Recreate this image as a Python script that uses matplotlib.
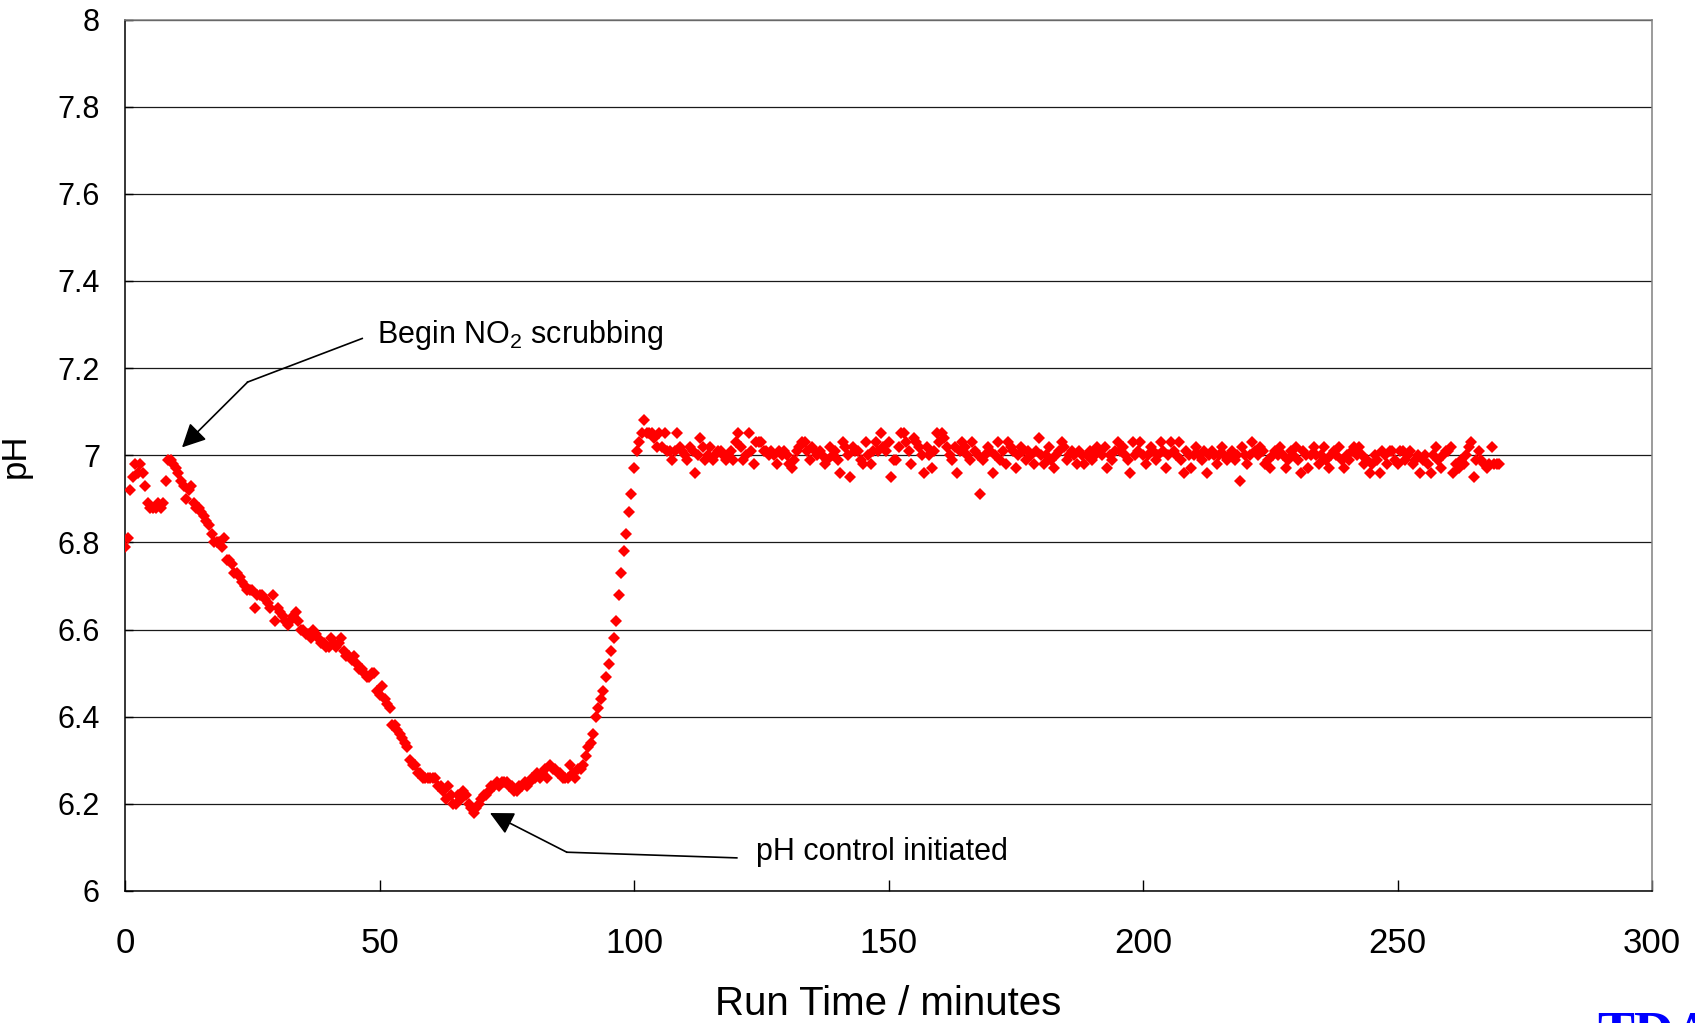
import matplotlib
matplotlib.use("Agg")
import matplotlib.pyplot as plt
import numpy as np

plt.rcParams["font.family"] = ["Liberation Sans", "DejaVu Sans"]
plt.rcParams["mathtext.default"] = "regular"

# pH logged every half minute, values in hundredths of a pH unit
SAMPLE_STEP_MIN = 0.5

# 0.0 - 12.0 min
ph_startup = [
    679, 681, 692, 695, 698, 696, 698, 696, 693, 689,
    688, 688, 688, 689, 688, 689, 694, 699, 699, 698,
    697, 696, 694, 693, 690,
]

# 12.5 - 69.5 min, NO2 scrubbing drives pH down
ph_scrubbing = [
    692, 693, 689, 688, 688, 687, 686, 685, 684, 682,
    680, 680, 680, 679, 681, 676, 676, 675, 673, 673,
    672, 671, 670, 669, 669, 669, 665, 668, 668, 668,
    667, 666, 665, 668, 662, 665, 664, 663, 662, 661,
    662, 663, 664, 662, 660, 660, 659, 659, 658, 660,
    659, 658, 657, 657, 656, 656, 658, 657, 656, 657,
    658, 655, 654, 654, 653, 654, 652, 651, 651, 650,
    649, 649, 650, 650, 646, 645, 647, 644, 643, 642,
    638, 638, 637, 636, 635, 634, 633, 630, 629, 629,
    627, 627, 626, 626, 626, 626, 626, 626, 624, 624,
    623, 621, 624, 622, 620, 620, 622, 621, 623, 622,
    620, 619, 618, 619, 620,
]

# 70.0 - 102.5 min, pH control kicks in
ph_recovery = [
    621, 622, 622, 623, 624, 624, 625, 624, 625, 625,
    625, 624, 624, 623, 623, 624, 624, 625, 624, 625,
    626, 626, 627, 626, 627, 628, 626, 629, 628, 628,
    627, 627, 626, 626, 626, 629, 627, 626, 628, 628,
    629, 631, 633, 634, 636, 640, 642, 644, 646, 649,
    652, 655, 658, 662, 668, 673, 678, 682, 687, 691,
    697, 701, 703, 705, 708, 705,
]

# 103.0 - 270.0 min, held near pH 7
ph_steady = [
    705, 705, 704, 702, 705, 702, 705, 701, 701, 699,
    701, 705, 702, 701, 700, 699, 702, 701, 696, 700,
    704, 702, 699, 700, 702, 699, 700, 701, 701, 700,
    699, 700, 701, 699, 703, 705, 702, 699, 700, 705,
    701, 698, 703, 703, 703, 701, 701, 700, 701, 700,
    698, 701, 700, 701, 700, 698, 697, 699, 701, 702,
    703, 703, 701, 699, 702, 701, 700, 701, 700, 698,
    699, 702, 700, 701, 699, 696, 703, 702, 700, 695,
    702, 701, 701, 699, 698, 703, 700, 698, 701, 703,
    701, 705, 702, 701, 703, 695, 699, 699, 702, 705,
    705, 703, 701, 698, 704, 703, 702, 700, 696, 702,
    700, 697, 701, 705, 703, 705, 704, 702, 700, 699,
    702, 696, 701, 703, 702, 700, 699, 703, 701, 700,
    691, 699, 700, 702, 701, 696, 700, 703, 699, 701,
    698, 703, 702, 701, 697, 700, 702, 701, 699, 701,
    700, 698, 701, 704, 700, 698, 700, 702, 699, 697,
    700, 701, 703, 702, 699, 700, 701, 700, 698, 701,
    700, 698, 700, 701, 699, 700, 702, 701, 700, 702,
    697, 700, 699, 701, 703, 701, 702, 700, 699, 696,
    703, 700, 701, 703, 700, 698, 700, 702, 701, 699,
    700, 703, 701, 697, 700, 703, 701, 700, 703, 699,
    696, 701, 700, 697, 700, 702, 700, 699, 701, 696,
    700, 701, 700, 698, 700, 702, 700, 699, 700, 701,
    699, 700, 694, 702, 700, 698, 700, 703, 701, 700,
    702, 701, 698, 699, 697, 700, 701, 700, 702, 700,
    697, 699, 701, 700, 702, 699, 696, 701, 700, 697,
    700, 702, 700, 698, 700, 702, 699, 697, 700, 701,
    700, 702, 699, 697, 700, 699, 701, 702, 700, 702,
    700, 698, 699, 696, 698, 700, 699, 696, 701, 700,
    698, 701, 701, 699, 698, 701, 701, 699, 700, 701,
    698, 699, 700, 696, 699, 700, 698, 696, 700, 702,
    699, 697, 700, 701, 701, 702, 696, 698, 697, 699,
    698, 700, 702, 703, 695, 699, 701, 699, 698, 697,
    698, 702, 698, 698, 698,
]

x_ticks = [0, 50, 100, 150, 200, 250, 300]
y_ticks = [6.0, 6.2, 6.4, 6.6, 6.8, 7.0, 7.2, 7.4, 7.6, 7.8, 8.0]

ph = np.array(ph_startup + ph_scrubbing + ph_recovery + ph_steady) / 100.0
run_time = np.arange(len(ph)) * SAMPLE_STEP_MIN

W, H = 1695, 1023
fig = plt.figure(figsize=(W / 100, H / 100), dpi=100)
ax = fig.add_axes([125 / W, 1 - 891 / H, 1527 / W, 871.5 / H])

ax.plot(run_time, ph, linestyle="none", marker="D", markersize=5.8,
        markerfacecolor="#ff0000", markeredgewidth=0, zorder=3)

ax.set_xlim(0, 300)
ax.set_ylim(6, 8)
ax.set_xticks(x_ticks)
ax.set_yticks(y_ticks)
ax.set_yticklabels([f"{v:g}" for v in y_ticks])
ax.yaxis.grid(True, color="#1a1a1a", linewidth=0.9)
ax.set_axisbelow(True)

ax.tick_params(axis="x", direction="in", length=8, width=1, labelsize=25, pad=26)
ax.tick_params(axis="y", direction="in", length=6, width=1, labelsize=22, pad=18)
for side in ("left", "bottom"):
    ax.spines[side].set_color("#000000")
    ax.spines[side].set_linewidth(1.1)
for side in ("top", "right"):
    ax.spines[side].set_color("#808080")
    ax.spines[side].set_linewidth(1.1)

ax.set_xlabel("Run Time / minutes", fontsize=29, labelpad=18)
ax.set_ylabel("pH", fontsize=25)
ax.yaxis.set_label_coords(-0.061, 0.5)

# callouts: kinked leader line, arrow on the last leg
arrow = dict(arrowstyle="-|>,head_length=0.6,head_width=0.3", color="black",
             lw=1.2, mutation_scale=24, shrinkA=0, shrinkB=0)

ax.plot([46.6, 24.1], [7.268, 7.168], color="black", lw=1.2)
ax.annotate("", xy=(11.2, 7.018), xytext=(24.1, 7.168), arrowprops=arrow)
ax.text(49.6, 7.275, "Begin NO$_2$ scrubbing", fontsize=22, va="center", ha="left")

ax.plot([120.2, 86.8], [6.076, 6.089], color="black", lw=1.2)
ax.annotate("", xy=(71.7, 6.179), xytext=(86.8, 6.089), arrowprops=arrow)
ax.text(123.9, 6.089, "pH control initiated", fontsize=22, va="center", ha="left")

fig.text(1597 / W, 1 - 1011 / H, "TDA", color="#0000ff", fontsize=40,
         fontweight="bold", family=["Liberation Serif", "DejaVu Serif"],
         ha="left", va="top")

fig.savefig("out.png", dpi=100)
